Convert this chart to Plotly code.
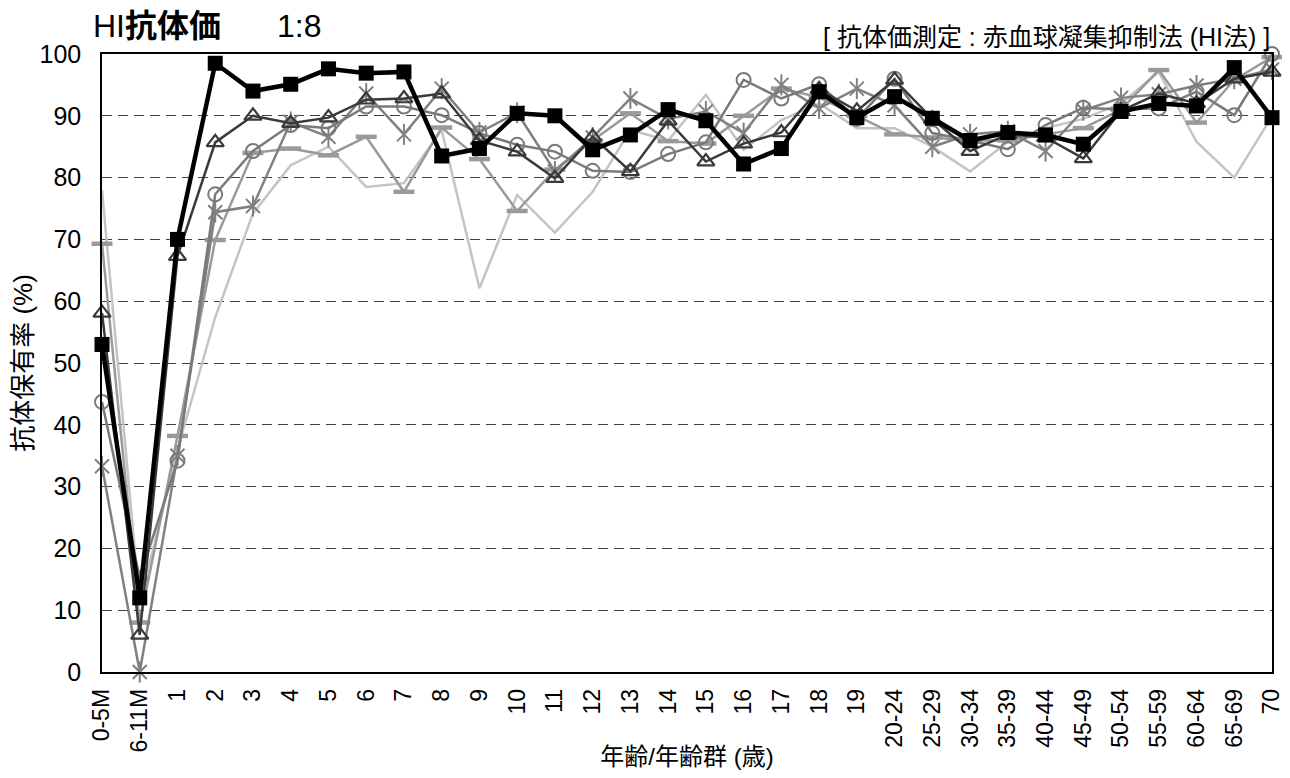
import plotly.graph_objects as go

categories = ["0-5M", "6-11M", "1", "2", "3", "4", "5", "6", "7", "8", "9", "10",
              "11", "12", "13", "14", "15", "16", "17", "18", "19",
              "20-24", "25-29", "30-34", "35-39", "40-44", "45-49",
              "50-54", "55-59", "60-64", "65-69", "70"]

series_square = [53, 12, 70, 98.5, 94, 95.1, 97.6, 96.9, 97.1, 83.5, 84.7, 90.4,
                 90, 84.5, 86.9, 91, 89.2, 82.2, 84.7, 93.9, 89.7,
                 93.1, 89.6, 86, 87.3, 86.9, 85.4, 90.7, 92, 91.6, 97.8, 89.7]
series_triangle = [58.1, 6, 67.3, 85.7, 90, 88.8, 89.7, 92.6, 92.8, 93.6, 86, 84.2,
                   79.9, 86.6, 81, 89.2, 82.6, 85.5, 87.3, 94.3, 90.8,
                   95.8, 89.5, 84.3, 87, 86.5, 83.1, 90.8, 93.6, 92, 96, 97.1]
series_circle = [43.7, 15.2, 34.2, 77.3, 84.3, 88.5, 88, 91.5, 91.5, 90.1, 87.2, 85.3,
                 84.2, 81.1, 80.9, 83.8, 85.7, 95.8, 92.8, 95.1, 89.5,
                 96, 87.2, 86, 84.6, 88.5, 91.3, 91, 91.2, 93.9, 90.1, 100]
series_cross = [33.3, 0, 35, 74.4, 75.4, 89, 86.6, 93.6, 87, 94.4, 87.3, 90.5,
                81, 86.5, 92.8, 89.5, 90.7, 87.2, 95, 91.2, 94.4,
                91.7, 85, 87, 87.5, 84.3, 90.9, 92.9, 93.5, 94.9, 96, 97.5]
series_dash = [69.3, 8, 38.2, 69.9, 84, 84.7, 83.6, 86.6, 77.7, 88.1, 83, 74.6,
               81.3, 86, 90.4, 85.9, 85.5, 90, 94.4, 93, 90,
               87, 86.5, 86, 86, 87, 88, 91, 97.4, 88.9, 95.8, 99.5]
series_plain = [78, 11, 36, 57.4, 74.2, 82, 85, 78.5, 79.1, 87.7, 62.1, 77.2,
                71.1, 77.7, 87.7, 86, 93.4, 84.5, 89.3, 92, 88,
                88, 85, 81, 85.8, 88, 89.5, 92, 97.1, 85.8, 80, 89.9]

y_ticks = [0, 10, 20, 30, 40, 50, 60, 70, 80, 90, 100]

FONT = "Liberation Sans, Arial, Noto Sans CJK JP, sans-serif"
xs = list(range(len(categories)))


def open_marker(symbol, size, color, width=2):
    return dict(symbol=symbol, size=size, color=color,
                line=dict(color=color, width=width))


fig = go.Figure()

fig.add_trace(go.Scatter(x=xs, y=series_plain, mode="lines",
                         line=dict(color="#c4c4c4", width=2.5), cliponaxis=False))
fig.add_trace(go.Scatter(x=xs, y=series_dash, mode="lines+markers",
                         line=dict(color="#9a9a9a", width=2.5),
                         marker=open_marker("line-ew-open", 15, "#9a9a9a", 4.5),
                         cliponaxis=False))
fig.add_trace(go.Scatter(x=xs, y=series_cross, mode="lines+markers",
                         line=dict(color="#808080", width=2.5),
                         marker=open_marker("x-thin-open", 14, "#808080", 2),
                         cliponaxis=False))
fig.add_trace(go.Scatter(x=xs, y=series_cross, mode="markers",
                         marker=open_marker("line-ns-open", 15, "#808080", 2),
                         cliponaxis=False))
fig.add_trace(go.Scatter(x=xs, y=series_circle, mode="lines+markers",
                         line=dict(color="#7a7a7a", width=2.5),
                         marker=open_marker("circle-open", 14, "#7a7a7a", 2),
                         cliponaxis=False))
fig.add_trace(go.Scatter(x=xs, y=series_triangle, mode="lines+markers",
                         line=dict(color="#3a3a3a", width=2.5),
                         marker=open_marker("triangle-up-open", 15, "#3a3a3a", 2.2),
                         cliponaxis=False))
fig.add_trace(go.Scatter(x=xs, y=series_square, mode="lines+markers",
                         line=dict(color="#000000", width=4.5),
                         marker=dict(symbol="square", size=15, color="#000000"),
                         cliponaxis=False))

fig.update_layout(
    width=1282, height=762,
    margin=dict(l=94, r=18, t=46, b=98),
    paper_bgcolor="white", plot_bgcolor="white",
    showlegend=False,
    font=dict(family=FONT, size=24, color="black"),
    xaxis=dict(
        range=[0, len(categories) - 1],
        tickmode="array", tickvals=xs, ticktext=categories,
        tickangle=-90, showgrid=False, zeroline=False,
        showline=True, linecolor="black", linewidth=1.5, mirror=True,
        ticks="", tickfont=dict(size=23, family=FONT), ticklabelstandoff=6,
        ticklabeloverflow="allow", automargin=False,
        title=dict(text="年齢/年齢群 (歳)", font=dict(size=24, family=FONT), standoff=12),
    ),
    yaxis=dict(
        range=[0, 100], tickmode="array", tickvals=y_ticks,
        showgrid=True, gridcolor="#404040", gridwidth=1, griddash="10px,6px",
        zeroline=False, showline=True, linecolor="black", linewidth=1.5, mirror=True,
        ticks="", tickfont=dict(size=25, family=FONT), ticklabelstandoff=14,
        automargin=False,
        title=dict(text="抗体保有率 (%)", font=dict(size=26, family=FONT), standoff=12),
    ),
)

fig.add_annotation(xref="paper", yref="paper", x=0, y=1.0, xshift=-11, yshift=28,
                   xanchor="left", yanchor="middle", showarrow=False,
                   text="HI<b>抗体価</b>",
                   font=dict(size=32, family=FONT, color="black"))
fig.add_annotation(xref="paper", yref="paper", x=0, y=1.0, xshift=173, yshift=28,
                   xanchor="left", yanchor="middle", showarrow=False,
                   text="1:8",
                   font=dict(size=32, family=FONT, color="black"))
fig.add_annotation(xref="paper", yref="paper", x=1.0, y=1.0, xshift=0, yshift=17,
                   xanchor="right", yanchor="middle", showarrow=False,
                   text="[ 抗体価測定 : 赤血球凝集抑制法 (HI法) ]",
                   font=dict(size=25, family=FONT, color="black"))

fig.write_html("out.html")
